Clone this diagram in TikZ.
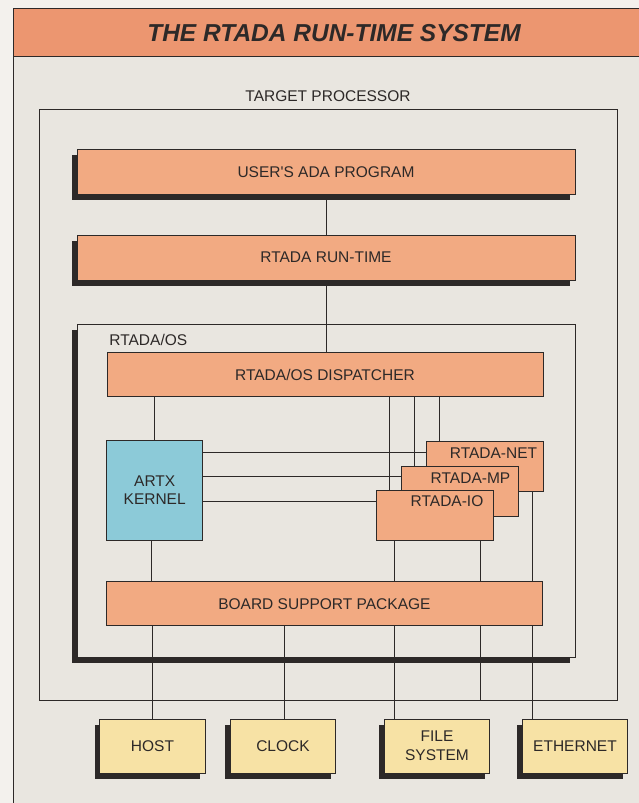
\documentclass[tikz,border=0pt]{standalone}
\usepackage{fontspec}
\setmainfont{Liberation Sans}
\usetikzlibrary{calc,shadows}
\definecolor{ink}{RGB}{45,41,40}
\definecolor{pagewhite}{RGB}{243,241,237}
\definecolor{paper}{RGB}{233,230,224}
\definecolor{band}{RGB}{236,150,112}
\definecolor{salmon}{RGB}{242,170,130}
\definecolor{icyblue}{RGB}{140,202,216}
\definecolor{sand}{RGB}{247,226,165}
\tikzset{
  every picture/.style={color=ink, line width=0.8pt},
  box/.style={draw=ink, fill=salmon, inner sep=0pt, align=center, text=ink, font=\fontsize{15.5}{18}\selectfont},
  castshadow/.style={drop shadow={shadow xshift=-5pt, shadow yshift=-5.5pt, fill=ink, opacity=1}},
  layer/.style={box, castshadow, minimum width=498pt, minimum height=45pt},
  bar/.style={box, minimum width=436pt, minimum height=44pt},
  driver/.style={box, minimum width=116.6pt, minimum height=49.3pt},
  device/.style={box, castshadow, fill=sand, minimum width=105.5pt, minimum height=54pt, font=\fontsize{15.5}{19}\selectfont},
  frame/.style={draw=ink, fill=paper, inner sep=0pt},
  tag/.style={text=ink, inner sep=1pt, font=\fontsize{15.5}{18}\selectfont},
  headline/.style={text=ink, inner sep=0pt, font=\fontsize{24.5}{28}\selectfont\bfseries\itshape},
  link/.style={draw=ink, line width=0.8pt},
}
\begin{document}
\begin{tikzpicture}[x=1pt, y=-1pt]
  \useasboundingbox (0,0) rectangle (639,803);
  \fill[pagewhite] (0,0) rectangle (639,803);
  % sheet and title
  \draw[fill=paper] (13,8) rectangle (660,820);
  \draw[fill=band] (13,8) rectangle (660,56.7);
  \node[headline] (title) at (334,33) {THE RTADA RUN-TIME SYSTEM};
  % target processor
  \node[frame, minimum width=578pt, minimum height=591pt] (tp) at (328,404.5) {};
  \node[tag] (tplbl) at (328,96) {TARGET PROCESSOR};
  \node[layer] (user) at (326,172.2) {USER\textquotesingle S ADA PROGRAM};
  \node[layer] (rt) at (326,257.5) {RTADA RUN-TIME};
  % rtada/os
  \node[frame, castshadow, minimum width=498pt, minimum height=333pt] (os) at (326,490.5) {};
  \node[tag, anchor=west] (oslbl) at (108,339.5) {RTADA/OS};
  \node[bar] (disp) at (325,374.8) {RTADA/OS DISPATCHER};
  \node[box, fill=icyblue, minimum width=96pt, minimum height=99.3pt] (kern) at (154.7,490.3) {ARTX\\KERNEL};
  \node[driver] (net) at (485,466.3) {};
  \node[tag] (netlbl) at ([xshift=8.5pt, yshift=-11.5pt]net.north) {RTADA-NET};
  \node[driver] (mp) at (460,491.3) {};
  \node[tag] (mplbl) at ([xshift=10.5pt, yshift=-12pt]mp.north) {RTADA-MP};
  \node[driver] (io) at (435,515.5) {};
  \node[tag] (iolbl) at ([xshift=12pt, yshift=-11pt]io.north) {RTADA-IO};
  \node[bar] (bsp) at (324.4,603.8) {BOARD SUPPORT PACKAGE};
  % devices
  \node[device] (host) at (152.5,746) {HOST};
  \node[device] (clock) at (283,746) {CLOCK};
  \node[device] (file) at (437,746) {FILE\\SYSTEM};
  \node[device] (eth) at (575,746) {ETHERNET};
  % upper links
  \draw[link] (user.south) -- (rt.north);
  \draw[link] (rt.south) -- (rt.south |- os.north);
  \draw[link] (rt.south |- os.north) -- (rt.south |- disp.north);
  \draw[link] (kern.north) -- (kern.north |- disp.south);
  \foreach \d in {io,mp,net}
    \draw[link] ([xshift=12.8pt]\d.north west) -- ([xshift=12.8pt]\d.north west |- disp.south);
  \draw[link] ([yshift=-11.3pt]net.north west) -- ([yshift=-11.3pt]net.north west -| kern.east);
  \draw[link] ([yshift=-10.3pt]mp.north west) -- ([yshift=-10.3pt]mp.north west -| kern.east);
  \draw[link] ([yshift=-11pt]io.north west) -- ([yshift=-11pt]io.north west -| kern.east);
  % lower links
  \coordinate (ioX) at ([xshift=17.6pt]io.south west);
  \coordinate (mpX) at ([xshift=-38.3pt]mp.south east);
  \coordinate (netX) at ([xshift=-11pt]net.south east);
  \draw[link] ([xshift=-3pt]kern.south) -- ([xshift=-3pt]kern.south |- bsp.north);
  \draw[link] (ioX) -- (ioX |- bsp.north);
  \draw[link] (mpX |- io.south) -- (mpX |- bsp.north);
  \draw[link] (netX) -- (netX |- bsp.north);
  \draw[link] (host.north |- bsp.south) -- (host.north);
  \draw[link] ([xshift=1.3pt]clock.north |- bsp.south) -- ([xshift=1.3pt]clock.north);
  \draw[link] (ioX |- bsp.south) -- (ioX |- file.north);
  \draw[link] (mpX |- bsp.south) -- (mpX |- tp.south);
  \draw[link] (netX |- bsp.south) -- (netX |- eth.north);
\end{tikzpicture}
\end{document}
